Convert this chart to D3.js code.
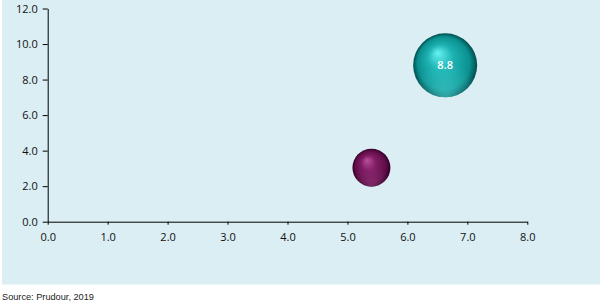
<!DOCTYPE html>
<html>
<head>
<meta charset="utf-8">
<title>Bubble chart</title>
<script src="https://cdn.jsdelivr.net/npm/d3@7"></script>
<style>
  body { margin: 0; background: #fff; }
  .axis text { font-family: "Open Sans", sans-serif; font-size: 11px; fill: #111; }
  .axis path, .axis line { stroke: #000; stroke-width: 1; }
</style>
</head>
<body>
<div id="chart"></div>
<script>
// data
const xValues = [5.4, 6.63];
const yValues = [3.04, 8.8];
const sizes = [1.0, 2.84];
const labels = ["", "8.8"];
const palette = [
  ["#b8509a", "#7f1c64", "#5e0c47", "#2e0022"],
  ["#66f2f2", "#1db2b2", "#0b8f8f", "#004d4f"]
];
const xTicks = [0, 1, 2, 3, 4, 5, 6, 7, 8];
const yTicks = [0, 2, 4, 6, 8, 10, 12];

const width = 601, height = 307;

const svg = d3.select("#chart").append("svg")
  .attr("width", width)
  .attr("height", height);

svg.append("rect")
  .attr("x", 2).attr("y", 0)
  .attr("width", 598).attr("height", 284.5)
  .attr("fill", "#daeef3");

const x = d3.scaleLinear().domain([0, 8]).range([47.7, 527.3]);
const y = d3.scaleLinear().domain([0, 12]).range([221.7, 8.5]);
const r = d3.scaleSqrt().domain([0, d3.max(sizes)]).range([0, 32]);

svg.append("g")
  .attr("class", "axis")
  .attr("transform", `translate(0,${y(0)})`)
  .call(d3.axisBottom(x).tickValues(xTicks).tickFormat(d3.format(".1f"))
    .tickSizeInner(3).tickSizeOuter(0).tickPadding(9));

svg.append("g")
  .attr("class", "axis")
  .attr("transform", `translate(${x(0)},0)`)
  .call(d3.axisLeft(y).tickValues(yTicks).tickFormat(d3.format(".1f"))
    .tickSizeInner(5).tickSizeOuter(0).tickPadding(5));

const defs = svg.append("defs");
palette.forEach((c, i) => {
  const g = defs.append("radialGradient")
    .attr("id", "ball" + i)
    .attr("cx", "50%").attr("cy", "50%").attr("r", "50%")
    .attr("fx", "38%").attr("fy", "30%");
  g.append("stop").attr("offset", "0%").attr("stop-color", c[0]);
  g.append("stop").attr("offset", "40%").attr("stop-color", c[1]);
  g.append("stop").attr("offset", "82%").attr("stop-color", c[2]);
  g.append("stop").attr("offset", "100%").attr("stop-color", c[3]);

  const s = defs.append("radialGradient")
    .attr("id", "shine" + i)
    .attr("cx", "50%").attr("cy", "100%").attr("r", "55%");
  s.append("stop").attr("offset", "0%").attr("stop-color", c[0]).attr("stop-opacity", 0.5);
  s.append("stop").attr("offset", "100%").attr("stop-color", c[0]).attr("stop-opacity", 0);
});

const data = xValues.map((d, i) => ({x: d, y: yValues[i], size: sizes[i], label: labels[i], i}));

const bubbles = svg.append("g").selectAll("g")
  .data(data)
  .join("g")
  .attr("transform", d => `translate(${x(d.x)},${y(d.y)})`);

bubbles.append("circle")
  .attr("r", d => r(d.size))
  .attr("fill", d => `url(#ball${d.i})`);

bubbles.append("circle")
  .attr("r", d => r(d.size))
  .attr("fill", d => `url(#shine${d.i})`);

bubbles.append("text")
  .attr("text-anchor", "middle")
  .attr("dy", "0.3em")
  .style("font-family", "\"Open Sans\", sans-serif")
  .style("font-size", "11px")
  .style("font-weight", "600")
  .style("fill", "#fff")
  .text(d => d.label);

svg.append("text")
  .attr("x", 2).attr("y", 300)
  .style("font-family", "\"Liberation Sans\", Arial, sans-serif")
  .style("font-size", "9.2px")
  .style("fill", "#222")
  .text("Source: Prudour, 2019");
</script>
</body>
</html>
